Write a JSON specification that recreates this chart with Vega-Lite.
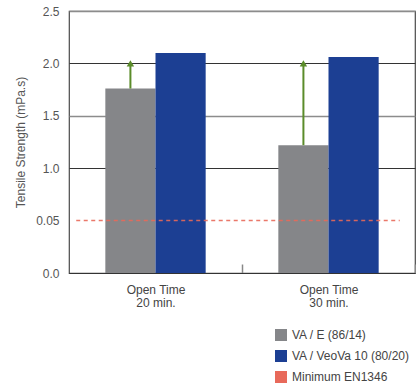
{
  "$schema": "https://vega.github.io/schema/vega-lite/v6.json",
  "autosize": "none",
  "width": 346,
  "height": 262,
  "padding": {"left": 69, "top": 11, "right": 1, "bottom": 110},
  "config": {
    "font": "Liberation Sans",
    "view": {"stroke": "#4a4a4a", "strokeWidth": 1.2},
    "axis": {"labelFont": "Liberation Sans", "titleFont": "Liberation Sans", "labelColor": "#555", "titleColor": "#555", "labelFontSize": 12}
  },
  "datasets": {
    "strength": [
      {"time": "20 min.", "series": "VA / E (86/14)", "value": 1.76},
      {"time": "20 min.", "series": "VA / VeoVa 10 (80/20)", "value": 2.1},
      {"time": "30 min.", "series": "VA / E (86/14)", "value": 1.22},
      {"time": "30 min.", "series": "VA / VeoVa 10 (80/20)", "value": 2.06}
    ],
    "arrows": [
      {"time": "20 min.", "series": "VA / E (86/14)", "from": 1.76, "to": 2.0},
      {"time": "30 min.", "series": "VA / E (86/14)", "from": 1.22, "to": 2.0}
    ],
    "minimum": [
      {"label": "Minimum EN1346", "value": 0.5, "start": "20 min.", "end": "30 min."}
    ]
  },
  "encoding": {
    "x": {
      "field": "time",
      "type": "nominal",
      "sort": ["20 min.", "30 min."],
      "scale": {"paddingInner": 0.42, "paddingOuter": 0.21},
      "axis": {
        "title": null,
        "labelAngle": 0,
        "labelExpr": "datum.label ? ['Open Time', datum.label] : ''",
        "labelLineHeight": 13,
        "labelPadding": 20,
        "labelColor": "#444",
        "tickOffset": 86.5,
        "labelOffset": -86.5,
        "tickSize": -9,
        "tickColor": "#888",
        "tickWidth": 1.5,
        "domainColor": "#333",
        "domainWidth": 1.2
      }
    }
  },
  "layer": [
    {
      "data": {"name": "strength"},
      "mark": {"type": "bar"},
      "encoding": {
        "xOffset": {
          "field": "series",
          "type": "nominal",
          "scale": {"domain": ["VA / E (86/14)", "VA / VeoVa 10 (80/20)"], "paddingInner": 0, "paddingOuter": 0}
        },
        "y": {
          "field": "value",
          "type": "quantitative",
          "scale": {"domain": [0, 2.5], "nice": false},
          "axis": {
            "title": "Tensile Strength (mPa.s)",
            "titleFontSize": 12,
            "titleFontWeight": "normal",
            "titlePadding": 8,
            "values": [0, 0.5, 1, 1.5, 2, 2.5],
            "labelExpr": "datum.value === 0.5 ? '0.05' : format(datum.value, '.1f')",
            "labelPadding": 10,
            "ticks": false,
            "domain": false,
            "grid": true,
            "gridColor": {"condition": {"test": "datum.value === 1.5 || datum.value === 2.5", "value": "#8c8c8c"}, "value": "#333"},
            "gridWidth": {"condition": {"test": "datum.value === 1.5 || datum.value === 2.5", "value": 1.6}, "value": 1.2},
            "gridOpacity": {"condition": {"test": "datum.value === 0.5 || datum.value === 0", "value": 0}, "value": 1}
          }
        },
        "color": {
          "field": "series",
          "type": "nominal",
          "scale": {
            "domain": ["VA / E (86/14)", "VA / VeoVa 10 (80/20)", "Minimum EN1346"],
            "range": ["#858689", "#1c3f93", "#e8695a"]
          },
          "legend": {
            "title": null,
            "orient": "none",
            "legendX": 206,
            "legendY": 318,
            "symbolType": "square",
            "symbolSize": 144,
            "symbolStrokeWidth": 0,
            "symbolOpacity": 1,
            "rowPadding": 9,
            "labelFontSize": 12,
            "labelColor": "#444",
            "labelOffset": 5,
            "padding": 0
          }
        }
      }
    },
    {
      "data": {"name": "minimum"},
      "mark": {"type": "rule", "strokeDash": [4, 3.5], "strokeWidth": 1.5, "opacity": 0.9},
      "encoding": {
        "x": {"field": "start", "type": "nominal", "bandPosition": -0.29},
        "x2": {"field": "end", "bandPosition": 1.21},
        "y": {"field": "value", "type": "quantitative"},
        "color": {"field": "label", "type": "nominal", "legend": null}
      }
    },
    {
      "data": {"name": "arrows"},
      "mark": {"type": "rule", "color": "#5b8c2a", "strokeWidth": 2},
      "encoding": {
        "xOffset": {"field": "series", "type": "nominal"},
        "y": {"field": "from", "type": "quantitative"},
        "y2": {"field": "to"}
      }
    },
    {
      "data": {"name": "arrows"},
      "mark": {"type": "point", "shape": "triangle-up", "filled": true, "color": "#5b8c2a", "size": 55, "opacity": 1},
      "encoding": {
        "xOffset": {"field": "series", "type": "nominal"},
        "y": {"field": "to", "type": "quantitative"}
      }
    }
  ]
}
